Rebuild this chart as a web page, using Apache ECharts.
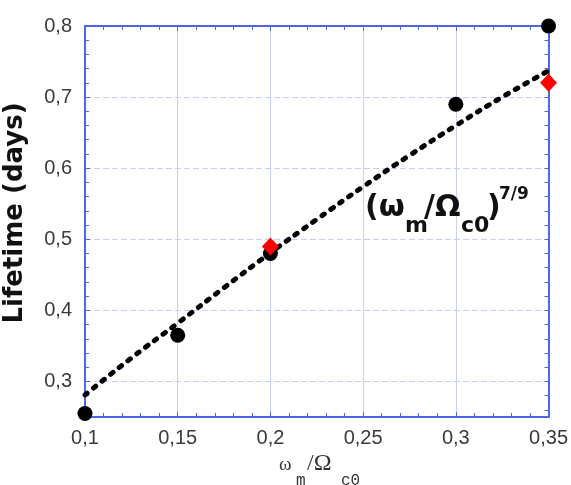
<!DOCTYPE html>
<html>
<head>
<meta charset="utf-8">
<script src="https://cdn.jsdelivr.net/npm/echarts@6/dist/echarts.min.js"></script>
<style>html,body{margin:0;padding:0;background:#fff}#c{width:571px;height:485px}</style>
</head>
<body>
<div id="c"></div>
<script>
// ---- data ----
const measuredX = [0.10, 0.15, 0.20, 0.30, 0.35];
const measuredY = [0.255, 0.365, 0.48, 0.69, 0.80];
const modelX = [0.20, 0.35];
const modelY = [0.49, 0.72];
const fitX = [0.10, 0.125, 0.15, 0.175, 0.20, 0.225, 0.25, 0.275, 0.30, 0.325, 0.35];
const fitY = [0.281, 0.333, 0.382, 0.432, 0.481, 0.528, 0.574, 0.618, 0.660, 0.700, 0.737];
const yLabels = [0.3, 0.4, 0.5, 0.6, 0.7, 0.8];
const yMinor = [0.26, 0.28, 0.32, 0.34, 0.36, 0.38, 0.42, 0.44, 0.46, 0.48, 0.52, 0.54, 0.56, 0.58, 0.62, 0.64, 0.66, 0.68, 0.72, 0.74, 0.76, 0.78];
const xMin = 0.1, xMax = 0.35, xStep = 0.05;
const yMin = 0.25, yMax = 0.8;

const axisBlue = '#5066e6';
const gridBlue = '#c9d0f7';
const comma = v => String(Number(v.toFixed(2))).replace('.', ',');

const chart = echarts.init(document.getElementById('c'), null, {renderer: 'canvas'});
const gridDef = {left: 85, right: 20, top: 26, bottom: 68};
const labelFont = {fontFamily: 'Liberation Sans, Arial, sans-serif', fontSize: 20, color: '#3a3a3a'};

chart.setOption({
  animation: false,
  grid: gridDef,
  xAxis: [
    {
      type: 'value', min: xMin, max: xMax, interval: xStep, position: 'bottom',
      axisLine: {lineStyle: {color: axisBlue, width: 2}},
      axisTick: {inside: true, length: 5, lineStyle: {color: axisBlue}},
      minorTick: {show: true, splitNumber: 5, length: 4, lineStyle: {color: axisBlue, width: 1}},
      axisLabel: Object.assign({margin: 11, formatter: comma}, labelFont),
      splitLine: {show: true, lineStyle: {color: gridBlue, width: 1, type: 'solid'}}
    },
    {
      type: 'value', min: xMin, max: xMax, interval: xStep, position: 'top',
      axisLine: {lineStyle: {color: axisBlue, width: 2}},
      axisTick: {inside: true, length: 5, lineStyle: {color: axisBlue}},
      minorTick: {show: true, splitNumber: 5, length: 4, lineStyle: {color: axisBlue, width: 1}},
      axisLabel: {show: false},
      splitLine: {show: false}
    }
  ],
  yAxis: [
    {
      type: 'value', min: yMin, max: yMax, position: 'left',
      axisLine: {show: true, lineStyle: {color: axisBlue, width: 2}},
      axisTick: {show: true, inside: true, length: 5, customValues: yLabels, lineStyle: {color: axisBlue}},
      axisLabel: Object.assign({margin: 13, customValues: yLabels, formatter: comma}, labelFont),
      splitLine: {show: true, lineStyle: {color: gridBlue, width: 1, type: [6, 3]}}
    },
    {
      type: 'value', min: yMin, max: yMax, position: 'left',
      axisLine: {show: false},
      axisTick: {show: true, inside: true, length: 4, customValues: yMinor, lineStyle: {color: axisBlue}},
      axisLabel: {show: false},
      splitLine: {show: false}
    },
    {
      type: 'value', min: yMin, max: yMax, position: 'right',
      axisLine: {show: true, lineStyle: {color: axisBlue, width: 2}},
      axisTick: {show: true, inside: true, length: 4, customValues: yLabels.concat(yMinor), lineStyle: {color: axisBlue}},
      axisLabel: {show: false},
      splitLine: {show: false}
    }
  ],
  series: [
    {
      type: 'line', smooth: true, showSymbol: false, symbol: 'none', z: 3,
      data: fitX.map((x, i) => [x, fitY[i]]),
      lineStyle: {color: '#000', width: 5, type: [3, 8], cap: 'round'}
    },
    {
      type: 'scatter', symbol: 'circle', symbolSize: 15, clip: false, z: 4,
      itemStyle: {color: '#000', opacity: 1},
      data: measuredX.map((x, i) => [x, measuredY[i]])
    },
    {
      type: 'scatter', symbol: 'diamond', symbolSize: [17, 18], clip: false, z: 5,
      itemStyle: {color: '#ff0000', opacity: 1},
      data: modelX.map((x, i) => [x, modelY[i]])
    }
  ],
  graphic: [
    {type: 'text', x: 15, y: 213, rotation: Math.PI / 2, z: 10,
     style: {text: 'Lifetime (days)', font: 'bold 26px "DejaVu Sans", sans-serif', fill: '#111', align: 'center', verticalAlign: 'middle'}},
    // annotation (ω_m/Ω_c0)^(7/9)
    {type: 'text', x: 365, y: 208, z: 10, style: {text: '(ω', font: 'bold 30px "DejaVu Sans", sans-serif', fill: '#111', align: 'left', verticalAlign: 'middle'}},
    {type: 'text', x: 405, y: 226, z: 10, style: {text: 'm', font: 'bold 22px "DejaVu Sans", sans-serif', fill: '#111', align: 'left', verticalAlign: 'middle'}},
    {type: 'text', x: 424, y: 208, z: 10, style: {text: '/Ω', font: 'bold 30px "DejaVu Sans", sans-serif', fill: '#111', align: 'left', verticalAlign: 'middle'}},
    {type: 'text', x: 461, y: 226, z: 10, style: {text: 'c0', font: 'bold 22px "DejaVu Sans", sans-serif', fill: '#111', align: 'left', verticalAlign: 'middle'}},
    {type: 'text', x: 487, y: 208, z: 10, style: {text: ')', font: 'bold 30px "DejaVu Sans", sans-serif', fill: '#111', align: 'left', verticalAlign: 'middle'}},
    {type: 'text', x: 499, y: 195, z: 10, style: {text: '7/9', font: 'bold 17px "DejaVu Sans", sans-serif', fill: '#111', align: 'left', verticalAlign: 'middle'}},
    // x-axis title ω_m/Ω_c0
    {type: 'text', x: 279, y: 465, z: 10, style: {text: 'ω', font: '19px "Liberation Serif", serif', fill: '#333', align: 'left', verticalAlign: 'middle'}},
    {type: 'text', x: 296, y: 481, z: 10, style: {text: 'm', font: '16px "Liberation Mono", monospace', fill: '#333', align: 'left', verticalAlign: 'middle'}},
    {type: 'text', x: 307, y: 464, z: 10, style: {text: '/Ω', font: '24px "Liberation Serif", serif', fill: '#333', align: 'left', verticalAlign: 'middle'}},
    {type: 'text', x: 341, y: 481, z: 10, style: {text: 'c0', font: '16px "Liberation Mono", monospace', fill: '#333', align: 'left', verticalAlign: 'middle'}}
  ]
});
</script>
</body>
</html>
